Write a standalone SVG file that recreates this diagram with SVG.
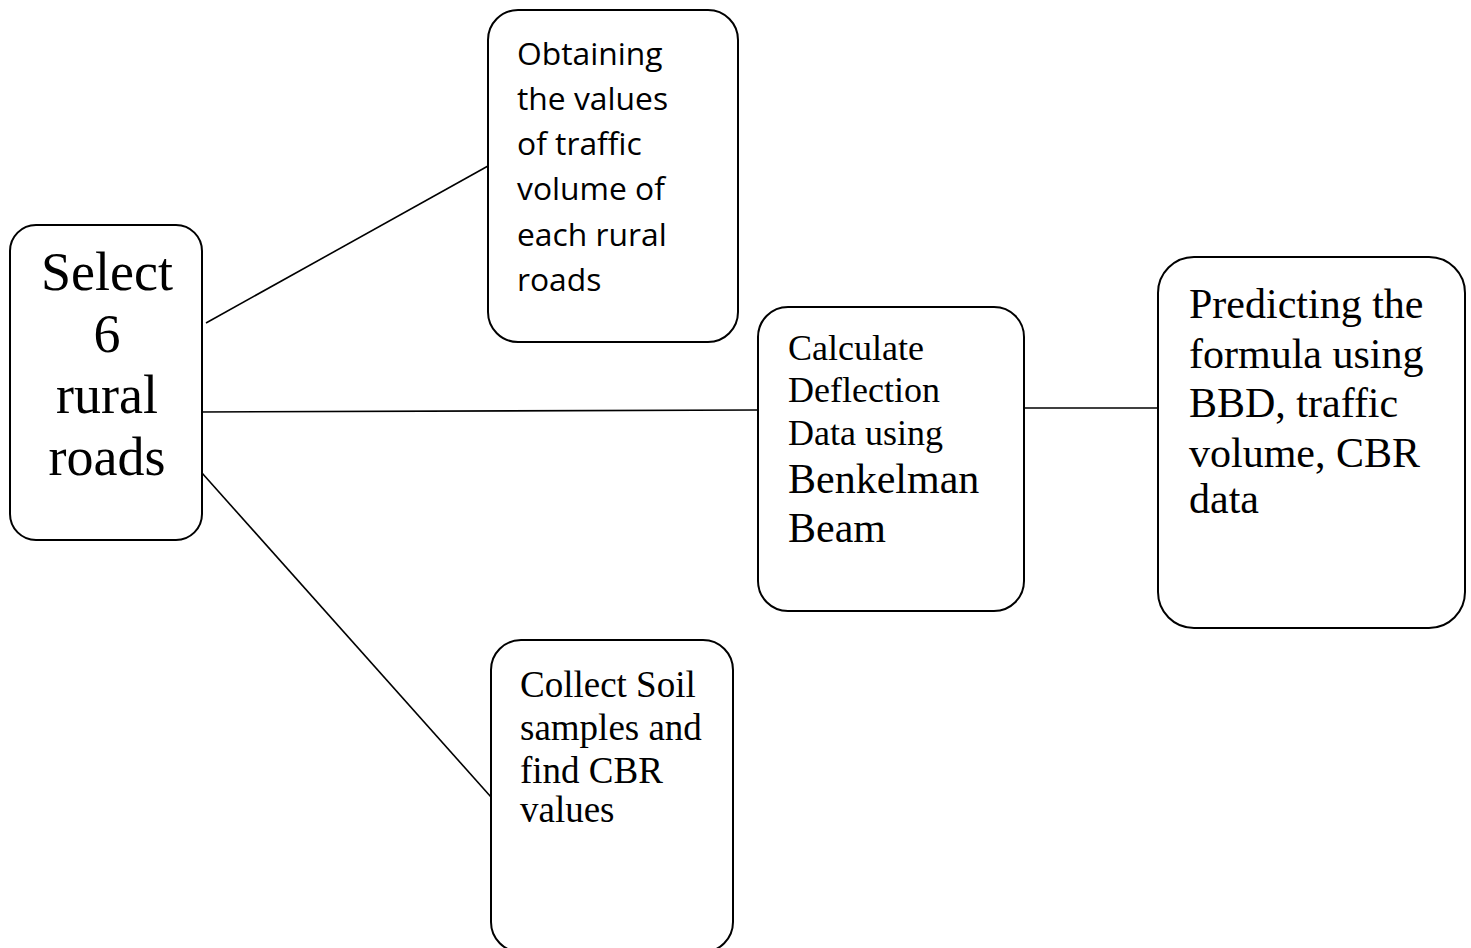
<svg xmlns="http://www.w3.org/2000/svg" width="1471" height="948" viewBox="0 0 1471 948">
<style>
.box{fill:#fff;stroke:#000;stroke-width:2}
.con{stroke:#000;stroke-width:1.6;fill:none}
.serif{font-family:"Liberation Serif","Times New Roman",serif;fill:#000}
.sans{font-family:"Open Sans","Liberation Sans",sans-serif;fill:#000}
.mid{text-anchor:middle;font-size:54px}
</style>
<rect width="1471" height="948" fill="#fff"/>
<g id="connectors">
<line class="con" x1="206" y1="323" x2="488" y2="166"/>
<line class="con" x1="200" y1="412" x2="758" y2="410"/>
<line class="con" x1="202" y1="473" x2="491" y2="797"/>
<line class="con" x1="1024" y1="408" x2="1158" y2="408"/>
</g>
<g id="select">
<rect class="box" x="10" y="225" width="192" height="315" rx="26"/>
<text class="serif mid" x="107" y="290">Select</text>
<text class="serif mid" x="107" y="352">6</text>
<text class="serif mid" x="107" y="413">rural</text>
<text class="serif mid" x="107" y="475">roads</text>
</g>
<g id="traffic">
<rect class="box" x="488" y="10" width="250" height="332" rx="30"/>
<text class="sans" font-size="31.8">
<tspan x="517" y="65">Obtaining</tspan>
<tspan x="517" y="110">the values</tspan>
<tspan x="517" y="155">of traffic</tspan>
<tspan x="517" y="200">volume of</tspan>
<tspan x="517" y="246">each rural</tspan>
<tspan x="517" y="291">roads</tspan>
</text>
</g>
<g id="deflection">
<rect class="box" x="758" y="307" width="266" height="304" rx="30"/>
<text class="serif" font-size="36">
<tspan x="788" y="360">Calculate</tspan>
<tspan x="788" y="402">Deflection</tspan>
<tspan x="788" y="445">Data using</tspan>
</text>
<text class="serif" font-size="42">
<tspan x="788" y="493">Benkelman</tspan>
<tspan x="788" y="542">Beam</tspan>
</text>
</g>
<g id="predicting">
<rect class="box" x="1158" y="257" width="307" height="371" rx="36"/>
<text class="serif" font-size="42">
<tspan x="1189" y="318">Predicting the</tspan>
<tspan x="1189" y="368">formula using</tspan>
<tspan x="1189" y="417">BBD, traffic</tspan>
<tspan x="1189" y="467">volume, CBR</tspan>
<tspan x="1189" y="513">data</tspan>
</text>
</g>
<g id="soil">
<rect class="box" x="491" y="640" width="242" height="312" rx="30"/>
<text class="serif" font-size="37">
<tspan x="520" y="697">Collect Soil</tspan>
<tspan x="520" y="740">samples and</tspan>
<tspan x="520" y="783">find CBR</tspan>
<tspan x="520" y="822">values</tspan>
</text>
</g>
</svg>
